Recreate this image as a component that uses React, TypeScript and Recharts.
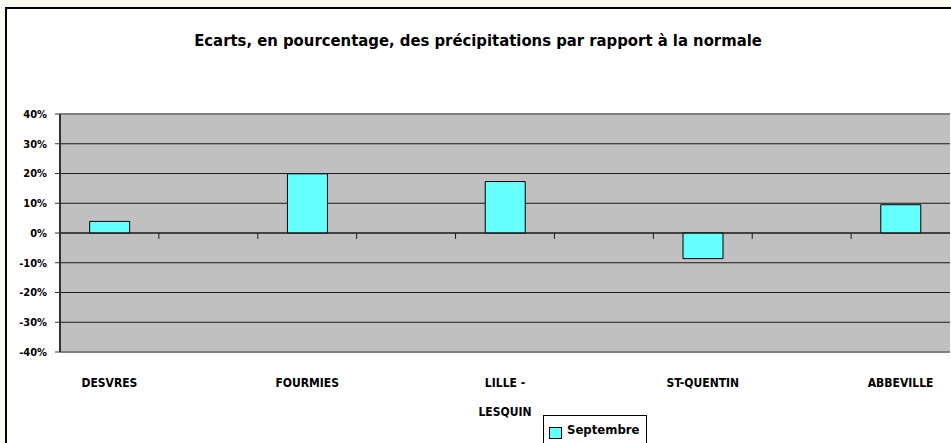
import React from "react";
import {
  Bar,
  BarChart,
  CartesianGrid,
  ReferenceLine,
  XAxis,
  YAxis,
} from "recharts";

// Excel-style layout: each city sits in a band, with an empty band between cities
const categories = ["DESVRES", "", "FOURMIES", "", "LILLE - LESQUIN", "", "ST-QUENTIN", "", "ABBEVILLE"];
const septembre = [3.9, null, 19.9, null, 17.3, null, -8.6, null, 9.5];
const yTicks = [-40, -30, -20, -10, 0, 10, 20, 30, 40];
const seriesName = "Septembre";
const title = "Ecarts, en pourcentage, des précipitations par rapport à la normale";

const chartData = categories.map((name, i) => ({ key: String(i), name, value: septembre[i] }));
const boundaryKeys = chartData.slice(1).map((d) => d.key);

const FONT = "'Liberation Sans Narrow', 'DejaVu Sans Condensed', sans-serif";
const CYAN = "#66ffff";

function CategoryTick(props: any) {
  const { x, y, payload } = props;
  const label: string = categories[Number(payload.value)] || "";
  if (!label) return null;
  // "LILLE - LESQUIN" wraps onto two lines
  const lines = label.includes(" - ") ? [label.split(" - ")[0] + " -", label.split(" - ")[1]] : [label];
  return (
    <g>
      {lines.map((line, i) => (
        <text
          key={i}
          x={x}
          y={y + 27 + i * 29}
          textAnchor="middle"
          fontFamily={FONT}
          fontWeight="bold"
          fontSize={12}
          fill="#000"
        >
          {line}
        </text>
      ))}
    </g>
  );
}

export default function App() {
  return (
    <div
      style={{
        position: "absolute",
        left: 0,
        top: 0,
        width: 951,
        height: 443,
        overflow: "hidden",
        background: "#fafaf2",
      }}
    >
      <div
        style={{
          position: "absolute",
          left: 5,
          top: 7,
          width: 980,
          height: 480,
          border: "2px solid #000",
          background: "#fff",
        }}
      />
      <div
        style={{
          position: "absolute",
          left: 0,
          top: 31,
          width: 956,
          textAlign: "center",
          fontFamily: FONT,
          fontWeight: "bold",
          fontSize: 16.5,
          color: "#000",
        }}
      >
        {title}
      </div>
      <div style={{ position: "absolute", left: 0, top: 0 }}>
        <BarChart
          width={951}
          height={443}
          data={chartData}
          margin={{ top: 114, right: 1, bottom: 0, left: 0 }}
          barCategoryGap="30%"
        >
          <CartesianGrid
            vertical={false}
            fill="#c0c0c0"
            stroke="#1a1a1a"
            strokeOpacity={1}
          />
          <XAxis
            dataKey="key"
            height={91}
            axisLine={false}
            tickLine={false}
            interval={0}
            tick={<CategoryTick />}
          />
          <YAxis
            width={60}
            domain={[-40, 40]}
            ticks={yTicks}
            interval={0}
            tickFormatter={(v) => `${v}%`}
            axisLine={{ stroke: "#333", strokeWidth: 2 }}
            tickLine={{ stroke: "#333" }}
            tickSize={5}
            tickMargin={8}
            tick={{ fontFamily: FONT, fontWeight: "bold", fontSize: 11, fill: "#000" }}
          />
          <ReferenceLine y={40} stroke="#808080" strokeWidth={2} />
          <ReferenceLine y={-40} stroke="#808080" strokeWidth={2} />
          <ReferenceLine y={0} stroke="#1a1a1a" />
          {boundaryKeys.map((k) => (
            <ReferenceLine
              key={k}
              position="start"
              segment={[
                { x: k, y: 0 },
                { x: k, y: -2 },
              ]}
              stroke="#1a1a1a"
            />
          ))}
          <Bar
            dataKey="value"
            name={seriesName}
            fill={CYAN}
            stroke="#000"
            strokeWidth={1}
            isAnimationActive={false}
          />
        </BarChart>
      </div>
      <div
        style={{
          position: "absolute",
          left: 543,
          top: 415,
          width: 104,
          height: 40,
          border: "1px solid #000",
          background: "#fff",
          boxSizing: "border-box",
        }}
      >
        <span
          style={{
            position: "absolute",
            left: 5,
            top: 11,
            width: 11,
            height: 10,
            background: CYAN,
            border: "1px solid #000",
          }}
        />
        <span
          style={{
            position: "absolute",
            left: 23,
            top: 5,
            fontFamily: FONT,
            fontWeight: "bold",
            fontSize: 13,
            lineHeight: "18px",
            color: "#000",
          }}
        >
          {seriesName}
        </span>
      </div>
    </div>
  );
}
